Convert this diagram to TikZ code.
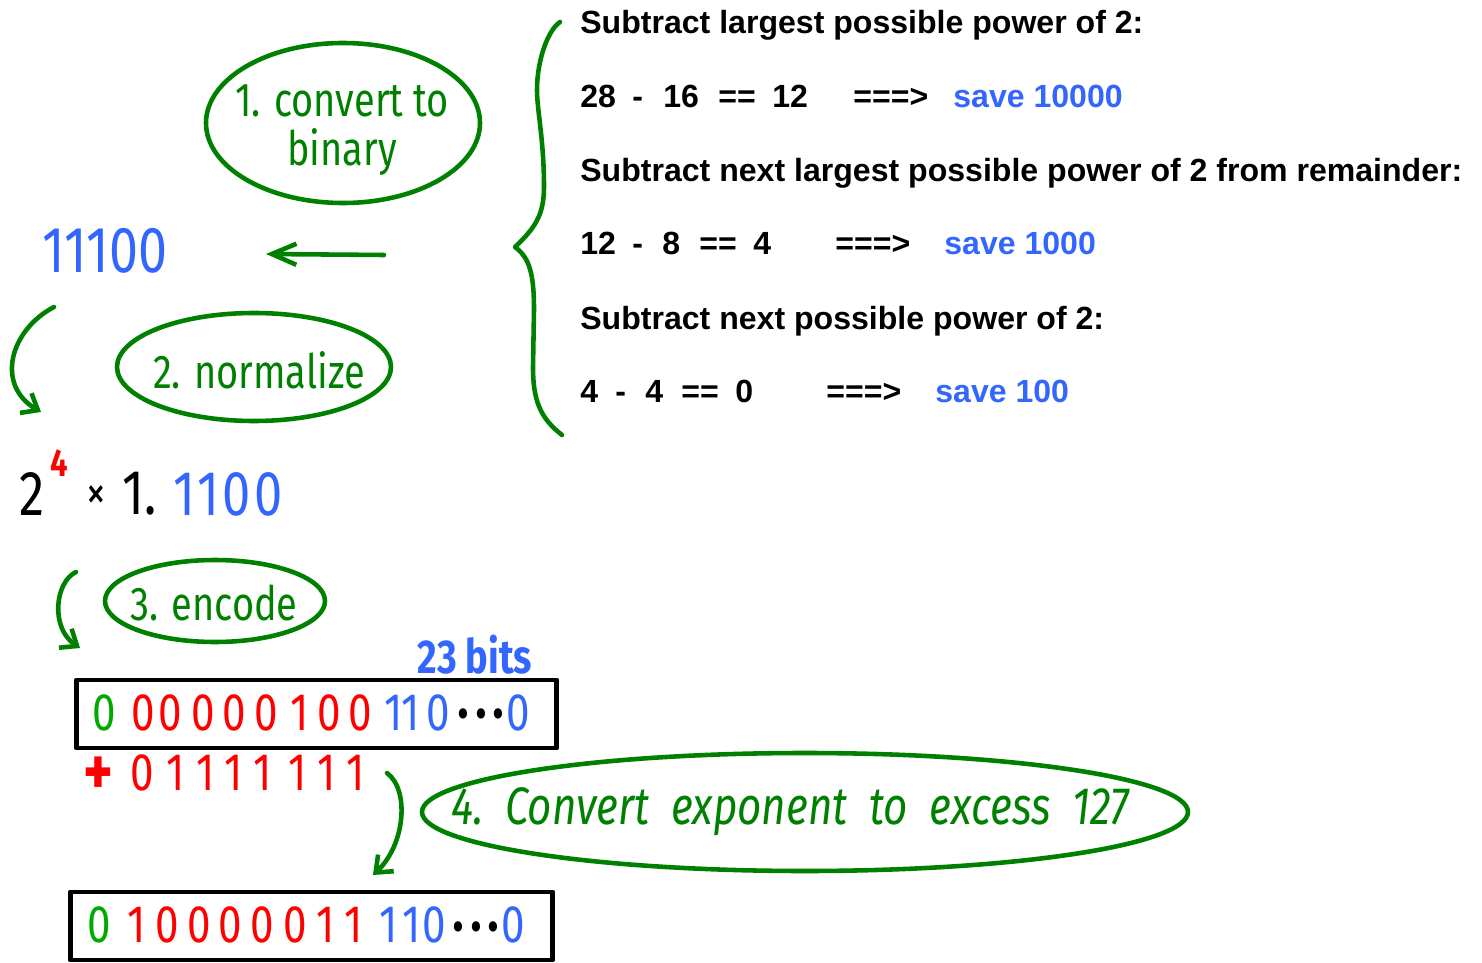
\documentclass[tikz,border=0pt]{standalone}
\usepackage{fontspec}
\usetikzlibrary{arrows.meta}
\newfontfamily\stepfont{Liberation Sans}
\newfontfamily\handfont[FakeStretch=0.8]{Fira Sans}
\definecolor{penblue}{RGB}{51,102,255}
\definecolor{pengreen}{RGB}{0,128,0}
\definecolor{bitgreen}{RGB}{0,170,0}
\definecolor{penred}{RGB}{255,0,0}
\tikzset{
  pen/.style={draw=pengreen,line width=2.6pt},
  barb/.style={-{Straight Barb[length=8pt,width=13pt]}},
  note/.style={text=pengreen,inner sep=0pt,align=center,font=\handfont\fontsize{27}{30}\selectfont},
  stepline/.style={anchor=base west,inner sep=0pt,font=\stepfont\bfseries\fontsize{18.25}{20}\selectfont},
  bitnode/.style={inner sep=0pt,font=\handfont\fontsize{30}{30}\selectfont},
  dotrun/.style={inner sep=0pt,font=\handfont\fontsize{26}{26}\selectfont},
  regbox/.style={draw,line width=2.8pt,minimum width=9.62cm,minimum height=1.36cm},
}
\begin{document}
\begin{tikzpicture}[x=0.02cm,y=-0.02cm,line cap=round,line join=round]
  \useasboundingbox (0,0) rectangle (1482,963);
  % the worked subtraction on the right
  \foreach \x/\y/\t [count=\i] in {580/34/Subtract largest possible power of 2:,
      580/182/Subtract next largest possible power of 2 from remainder:,
      580/329/Subtract next possible power of 2:}
    \node[stepline] (head\i) at (\x,\y) {\t};
  \foreach \x/\y/\t [count=\i] in {580/108/28, 632/108/-, 663/108/16, 718/108/==, 772/108/12, 853/108/===>,
      580/255/12, 632/255/-, 662/255/8, 699/255/==, 753/255/4, 835/255/===>,
      580/402/4, 615/402/-, 645/402/4, 681/402/==, 735/402/0, 826/402/===>}
    \node[stepline] (eq\i) at (\x,\y) {\t};
  \foreach \x/\y/\t [count=\i] in {953/108/save 10000, 944/255/save 1000, 935/402/save 100}
    \node[stepline,text=penblue] (save\i) at (\x,\y) {\t};
  \draw[pen] (560,22) .. controls (548,30) and (537,60) .. (537,90)
    .. controls (537,110) and (544,140) .. (544,187)
    .. controls (544,215) and (535,228) .. (515,247)
    .. controls (530,258) and (534,275) .. (534,310) -- (533,367)
    .. controls (533,400) and (540,418) .. (562,435);

  % step 1
  \node[note,font=\handfont\fontsize{27}{28}\selectfont] (conv) at (342,130) {1. convert to\\binary};
  \draw[pen] (343,123) ellipse [x radius=137, y radius=80];
  \node[text=penblue,inner sep=0pt,font=\handfont\fontsize{37}{40}\selectfont] (bin) at (105,251) {11100};
  \coordinate (a1s) at (384,255);
  \coordinate (a1e) at (266,254);
  \draw[pen,-{Straight Barb[length=14pt,width=12pt]}] (a1s) -- (a1e);

  % step 2
  \coordinate (a2s) at (54,307);
  \coordinate (a2e) at (41,412);
  \draw[pen,barb] (a2s) .. controls (10,330) and (-5,385) .. (a2e);
  \node[note] (norm) at (259,370) {2. normalize};
  \draw[pen] (254,367) ellipse [x radius=137, y radius=54];
  \node[inner sep=0pt,font=\handfont\fontsize{36}{36}\selectfont] (two) at (32,494) {2};
  \node[inner sep=0pt,text=penred,font=\handfont\bfseries\fontsize{22}{22}\selectfont] (ex) at (59,463) {4};
  \node[inner sep=0pt,font=\handfont\fontsize{28}{28}\selectfont] (times) at (96,498) {×};
  \node[inner sep=0pt,font=\handfont\fontsize{36}{36}\selectfont] (one) at (140,494) {1.};
  \node[inner sep=0pt,text=penblue,font=\handfont\fontsize{36}{36}\selectfont] (frac) at (228,494) {1\hspace{1pt}1\hspace{2pt}0\hspace{2pt}0};

  % step 3
  \coordinate (a3s) at (76,572);
  \coordinate (a3e) at (80,648);
  \draw[pen,barb] (a3s) .. controls (55,582) and (50,628) .. (a3e);
  \node[note] (enc) at (214,603) {3. encode};
  \draw[pen] (215,601) ellipse [x radius=110, y radius=41];
  \node[text=penblue,inner sep=0pt,font=\handfont\bfseries\fontsize{27}{28}\selectfont] (bits) at (475,655) {23 bits};
  \node[regbox] (reg1) at (316.5,714) {};
  \foreach \x/\b/\c [count=\i] in {104/0/bitgreen, 143/0/penred, 170/0/penred, 203/0/penred, 234/0/penred,
      266/0/penred, 300/1/penred, 329/0/penred, 360/0/penred, 394/1/penblue, 411/1/penblue, 438/0/penblue, 518/0/penblue}
    \node[bitnode,text=\c] (r1b\i) at (\x,713) {\b};
  \node[dotrun] (r1dots) at (481,719) {•\hspace{3pt}•\hspace{3pt}•};
  \node[inner sep=0pt,text=penred,font=\handfont\bfseries\fontsize{40}{40}\selectfont] (plus) at (98,776) {+};
  \foreach \x/\b [count=\i] in {142/0, 176/1, 206/1, 234/1, 263/1, 298/1, 327/1, 356/1}
    \node[bitnode,text=penred] (bias\i) at (\x,773) {\b};

  % step 4
  \coordinate (a4s) at (387,773);
  \coordinate (a4e) at (373,875);
  \draw[pen,barb] (a4s) .. controls (410,790) and (405,845) .. (a4e);
  \node[note,font=\handfont\itshape\fontsize{30}{32}\selectfont] (xs) at (790,812) {4.\ \ Convert\ \ exponent\ \ to\ \ excess\ \ 127};
  \draw[pen] (805,812) ellipse [x radius=383, y radius=59];
  \node[regbox,minimum width=9.66cm] (reg2) at (311.5,926) {};
  \foreach \x/\b/\c [count=\i] in {99/0/bitgreen, 137/1/penred, 167/0/penred, 199/0/penred, 230/0/penred,
      262/0/penred, 295/0/penred, 326/1/penred, 354/1/penred, 389/1/penblue, 412/1/penblue, 434/0/penblue, 513/0/penblue}
    \node[bitnode,text=\c] (r2b\i) at (\x,925) {\b};
  \node[dotrun] (r2dots) at (476,932) {•\hspace{3pt}•\hspace{3pt}•};
\end{tikzpicture}
\end{document}
